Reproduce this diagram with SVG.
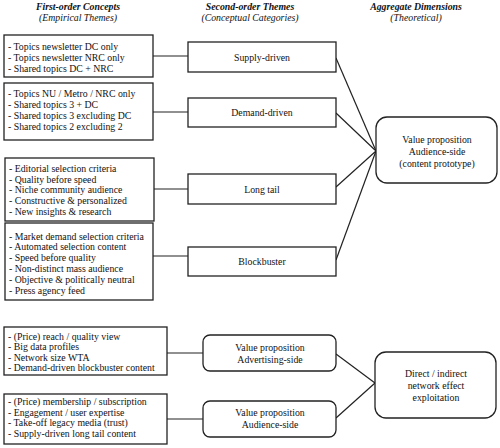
<svg xmlns="http://www.w3.org/2000/svg" width="500" height="448" viewBox="0 0 500 448">
<style>
.bx{fill:#fff;stroke:#222;stroke-width:1.3}
.t{font-family:"Liberation Serif","Times New Roman",serif;font-size:9.8px;fill:#111}
.c{text-anchor:middle}
.h{font-family:"Liberation Serif","Times New Roman",serif;font-size:9.8px;fill:#111;text-anchor:middle;font-style:italic}
.hb{font-weight:bold}
.ln{stroke:#222;stroke-width:1.2;fill:none}
</style>
<rect width="500" height="448" fill="#fff"/>
<g id="headers">
<text class="h hb" x="78" y="9.5">First-order Concepts</text>
<text class="h" x="78" y="20.5">(Empirical Themes)</text>
<text class="h hb" x="250" y="9.5">Second-order Themes</text>
<text class="h" x="250" y="20.5">(Conceptual Categories)</text>
<text class="h hb" x="416" y="9.5">Aggregate Dimensions</text>
<text class="h" x="416" y="20.5">(Theoretical)</text>
</g>
<g id="connectors">
<line class="ln" x1="153" y1="56" x2="188" y2="56"/>
<line class="ln" x1="153" y1="112" x2="188" y2="112"/>
<line class="ln" x1="154" y1="189" x2="188" y2="189"/>
<line class="ln" x1="153" y1="256" x2="188" y2="256"/>
<line class="ln" x1="167" y1="353" x2="203" y2="353"/>
<line class="ln" x1="167" y1="419" x2="203" y2="419"/>
<line class="ln" x1="336" y1="58" x2="376" y2="151"/>
<line class="ln" x1="336" y1="113" x2="376" y2="151"/>
<line class="ln" x1="336" y1="187" x2="376" y2="151"/>
<line class="ln" x1="336" y1="260" x2="376" y2="151"/>
<line class="ln" x1="336" y1="354" x2="375" y2="383"/>
<line class="ln" x1="336" y1="418" x2="375" y2="383"/>
</g>
<g id="c1">
<rect class="bx" x="4" y="35" width="149" height="42"/>
<text class="t" x="8" y="49.5">- Topics newsletter DC only</text>
<text class="t" x="8" y="60.5">- Topics newsletter NRC only</text>
<text class="t" x="8" y="71.5">- Shared topics DC + NRC</text>
</g>
<g id="c2">
<rect class="bx" x="4" y="83" width="149" height="57"/>
<text class="t" x="8" y="96.5">- Topics NU / Metro / NRC only</text>
<text class="t" x="8" y="107.5">- Shared topics 3 + DC</text>
<text class="t" x="8" y="118.5">- Shared topics 3 excluding DC</text>
<text class="t" x="8" y="129.5">- Shared topics 2 excluding 2</text>
</g>
<g id="c3">
<rect class="bx" x="5" y="158" width="149" height="63"/>
<text class="t" x="9" y="171.5">- Editorial selection criteria</text>
<text class="t" x="9" y="182.5">- Quality before speed</text>
<text class="t" x="9" y="193.3">- Niche community audience</text>
<text class="t" x="9" y="204.1">- Constructive &amp; personalized</text>
<text class="t" x="9" y="214.9">- New insights &amp; research</text>
</g>
<g id="c4">
<rect class="bx" x="5" y="223" width="148" height="77"/>
<text class="t" x="9" y="239.5">- Market demand selection criteria</text>
<text class="t" x="9" y="250.3">- Automated selection content</text>
<text class="t" x="9" y="261.1">- Speed before quality</text>
<text class="t" x="9" y="271.9">- Non-distinct mass audience</text>
<text class="t" x="9" y="282.7">- Objective &amp; politically neutral</text>
<text class="t" x="9" y="293.5">- Press agency feed</text>
</g>
<g id="c5">
<rect class="bx" x="4" y="327" width="163" height="48"/>
<text class="t" x="8" y="339.5">- (Price) reach / quality view</text>
<text class="t" x="8" y="350">- Big data profiles</text>
<text class="t" x="8" y="360.5">- Network size WTA</text>
<text class="t" x="8" y="371">- Demand-driven blockbuster content</text>
</g>
<g id="c6">
<rect class="bx" x="4" y="394" width="163" height="50"/>
<text class="t" x="8" y="405">- (Price) membership / subscription</text>
<text class="t" x="8" y="415.5">- Engagement / user expertise</text>
<text class="t" x="8" y="426">- Take-off legacy media (trust)</text>
<text class="t" x="8" y="436.5">- Supply-driven long tail content</text>
</g>
<g id="supply">
<rect class="bx" x="188" y="42" width="148" height="30"/>
<text class="t c" x="262" y="60.5">Supply-driven</text>
</g>
<g id="demand">
<rect class="bx" x="188" y="98" width="148" height="29"/>
<text class="t c" x="262" y="116">Demand-driven</text>
</g>
<g id="longtail">
<rect class="bx" x="188" y="174" width="148" height="30"/>
<text class="t c" x="262" y="192.5">Long tail</text>
</g>
<g id="blockbuster">
<rect class="bx" x="188" y="247" width="148" height="29"/>
<text class="t c" x="262" y="265">Blockbuster</text>
</g>
<g id="vp_adv">
<rect class="bx" x="203" y="335" width="133" height="36" rx="7"/>
<text class="t c" x="270" y="350.5">Value proposition</text>
<text class="t c" x="270" y="362.5">Advertising-side</text>
</g>
<g id="vp_aud2">
<rect class="bx" x="203" y="401" width="133" height="36" rx="7"/>
<text class="t c" x="270" y="415.5">Value proposition</text>
<text class="t c" x="270" y="428">Audience-side</text>
</g>
<g id="vp_aud">
<rect class="bx" x="376" y="117" width="121" height="66" rx="11"/>
<text class="t c" x="437" y="142.5">Value proposition</text>
<text class="t c" x="437" y="154.5">Audience-side</text>
<text class="t c" x="437" y="166.5">(content prototype)</text>
</g>
<g id="network">
<rect class="bx" x="375" y="352" width="121" height="66" rx="11"/>
<text class="t c" x="436" y="376.5">Direct / indirect</text>
<text class="t c" x="436" y="388.5">network effect</text>
<text class="t c" x="436" y="400.5">exploitation</text>
</g>
</svg>
